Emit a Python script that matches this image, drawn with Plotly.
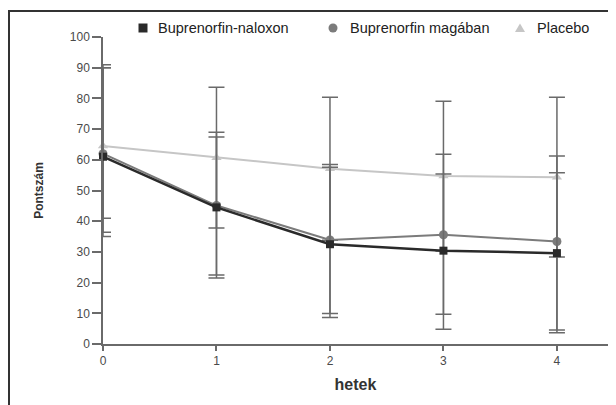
import plotly.graph_objects as go

weeks = [0, 1, 2, 3, 4]
week_labels = ["0", "1", "2", "3", "4"]

naloxon = [61.0, 44.5, 32.5, 30.4, 29.6]
naloxon_hi = [90.0, 69.0, 57.6, 55.4, 55.8]
naloxon_lo = [35.0, 21.5, 8.6, 4.8, 3.7]

magaban = [62.0, 45.1, 33.9, 35.6, 33.4]
magaban_hi = [91.0, 67.4, 58.5, 61.8, 61.2]
magaban_lo = [36.4, 22.5, 9.9, 9.7, 4.6]

placebo = [64.5, 60.7, 57.1, 54.7, 54.3]
placebo_hi = [90.0, 83.6, 80.4, 79.1, 80.4]
placebo_lo = [41.0, 37.8, 33.8, 30.3, 28.3]

y_ticks = [0, 10, 20, 30, 40, 50, 60, 70, 80, 90, 100]

names = ["Buprenorfin-naloxon", "Buprenorfin magában", "Placebo"]

# page offset of the figure inside the browser (default body margin)
OFF = 8
W, H = 616, 405
# target plot area in screenshot pixels
SL, SR, ST, SB = 103, 608, 37, 344
ML, MT = SL - OFF, ST - OFF
MR, MB = W - (SR - OFF), H - (SB - OFF)
PW, PH = W - ML - MR, H - MT - MB

FONT = "Liberation Sans, Arial, sans-serif"
ERR_COL = "#6a6a6a"


def px_x(p):
    """screen pixel x -> paper x"""
    return (p - OFF - ML) / PW


def px_y(p):
    """screen pixel y -> paper y"""
    return (H - MB - (p - OFF)) / PH


def err(mean, hi, lo):
    return dict(type="data", symmetric=False,
                array=[h - m for h, m in zip(hi, mean)],
                arrayminus=[m - l for m, l in zip(mean, lo)],
                color=ERR_COL, thickness=1.5, width=8)


series = [
    (placebo, placebo_hi, placebo_lo, "#c6c6c6", 2, "triangle-up", 9, names[2]),
    (magaban, magaban_hi, magaban_lo, "#7b7b7b", 2, "circle", 9, names[1]),
    (naloxon, naloxon_hi, naloxon_lo, "#2a2a2a", 2.5, "square", 8, names[0]),
]

fig = go.Figure()
for mean, hi, lo, col, lw, sym, ms, nm in series:
    fig.add_trace(go.Scatter(
        x=weeks, y=mean, mode="lines+markers", name=nm, showlegend=False,
        line=dict(color=col, width=lw),
        marker=dict(symbol=sym, size=ms, color=col),
        error_y=err(mean, hi, lo), cliponaxis=False))

fig.update_layout(
    width=W, height=H,
    margin=dict(l=ML, r=MR, t=MT, b=MB, autoexpand=False),
    paper_bgcolor="white", plot_bgcolor="white",
    font=dict(family=FONT, color="#333333", size=12),
    showlegend=False,
    xaxis=dict(range=[0, 4.45], tickvals=weeks, ticktext=week_labels,
               showgrid=False, zeroline=False, showline=True,
               linecolor="#6a6a6a", linewidth=1.5,
               ticks="outside", ticklen=5, tickcolor="#6a6a6a", tickwidth=1.5,
               tickfont=dict(size=12, color="#4a4a4a"),
               title=dict(text="<b>hetek</b>", font=dict(size=16, color="#333333"),
                          standoff=12)),
    yaxis=dict(range=[0, 100], tickvals=y_ticks,
               showgrid=False, zeroline=False, showline=True,
               linecolor="#6a6a6a", linewidth=1.5,
               ticks="outside", ticklen=9, tickcolor="#6a6a6a", tickwidth=1.5,
               tickfont=dict(size=12, color="#4a4a4a"),
               title=dict(text="<b>Pontszám</b>", font=dict(size=12, color="#333333"),
                          standoff=24)),
)

# manual legend: marker shapes + text annotations (screen pixel targets)
leg_y = 28
leg_items = [
    (143, 156, "square", "#2a2a2a", names[0]),
    (333, 348, "circle", "#7b7b7b", names[1]),
    (520, 535, "triangle", "#c6c6c6", names[2]),
]
for mx, tx, kind, col, txt in leg_items:
    common = dict(xref="paper", yref="paper", xsizemode="pixel", ysizemode="pixel",
                  xanchor=px_x(mx), yanchor=px_y(leg_y),
                  fillcolor=col, line=dict(width=0), layer="above")
    if kind == "square":
        fig.add_shape(type="rect", x0=-4.5, x1=4.5, y0=-4.5, y1=4.5, **common)
    elif kind == "circle":
        fig.add_shape(type="circle", x0=-4.5, x1=4.5, y0=-4.5, y1=4.5, **common)
    else:
        fig.add_shape(type="path", path="M -5,-4 L 5,-4 L 0,4.5 Z", **common)
    fig.add_annotation(x=px_x(tx), y=px_y(leg_y), xref="paper", yref="paper",
                       xanchor="left", yanchor="middle", showarrow=False,
                       text=txt, font=dict(size=14.5, color="#222222"))

# frame around the figure (right/bottom edges fall outside the window)
fig.add_shape(type="rect", xref="paper", yref="paper",
              x0=px_x(OFF + 1), x1=px_x(W + OFF - 1),
              y0=px_y(H + OFF - 1), y1=px_y(OFF + 3),
              line=dict(color="#333333", width=2), fillcolor="rgba(0,0,0,0)",
              layer="above")

fig.write_html("out.html")
